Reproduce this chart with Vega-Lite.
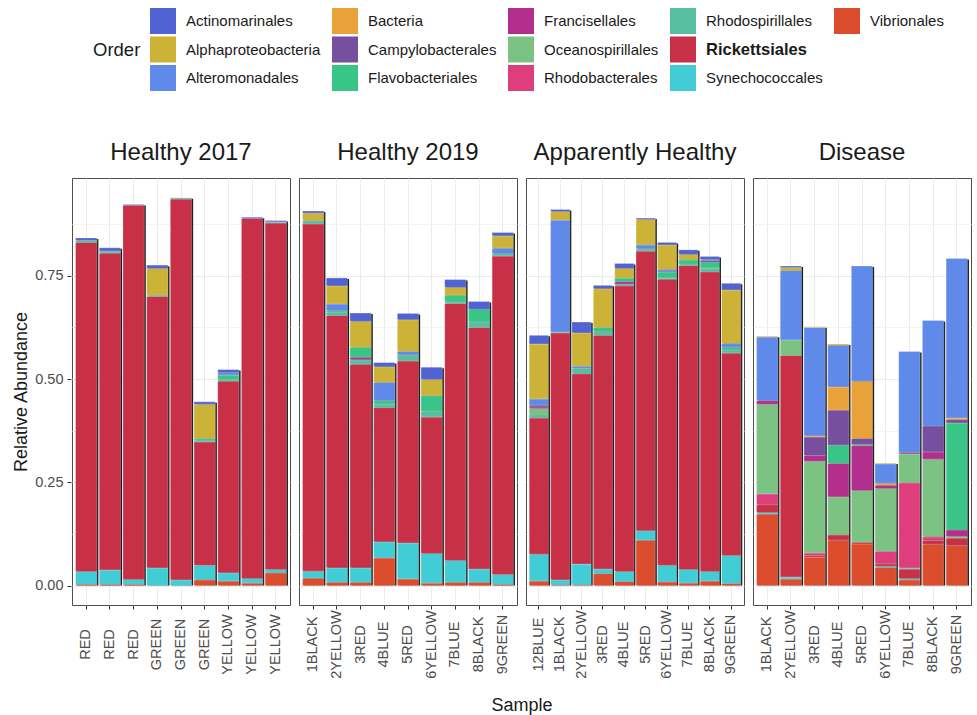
{
  "$schema": "https://vega.github.io/schema/vega-lite/v6.json",
  "padding": {"left": 12, "top": 8, "right": 2, "bottom": 2},
  "data": {"values": [
    {"Group":"Healthy 2017","Sample":"RED.1","Order":"Vibrionales","Abundance":0.003},
    {"Group":"Healthy 2017","Sample":"RED.1","Order":"Synechococcales","Abundance":0.031},
    {"Group":"Healthy 2017","Sample":"RED.1","Order":"Rickettsiales","Abundance":0.797},
    {"Group":"Healthy 2017","Sample":"RED.1","Order":"Rhodospirillales","Abundance":0.005},
    {"Group":"Healthy 2017","Sample":"RED.1","Order":"Actinomarinales","Abundance":0.006},
    {"Group":"Healthy 2017","Sample":"RED.2","Order":"Vibrionales","Abundance":0.003},
    {"Group":"Healthy 2017","Sample":"RED.2","Order":"Synechococcales","Abundance":0.035},
    {"Group":"Healthy 2017","Sample":"RED.2","Order":"Rickettsiales","Abundance":0.767},
    {"Group":"Healthy 2017","Sample":"RED.2","Order":"Rhodospirillales","Abundance":0.005},
    {"Group":"Healthy 2017","Sample":"RED.2","Order":"Actinomarinales","Abundance":0.008},
    {"Group":"Healthy 2017","Sample":"RED.3","Order":"Vibrionales","Abundance":0.003},
    {"Group":"Healthy 2017","Sample":"RED.3","Order":"Synechococcales","Abundance":0.012},
    {"Group":"Healthy 2017","Sample":"RED.3","Order":"Rickettsiales","Abundance":0.906},
    {"Group":"Healthy 2017","Sample":"RED.3","Order":"Actinomarinales","Abundance":0.002},
    {"Group":"Healthy 2017","Sample":"GREEN.1","Order":"Synechococcales","Abundance":0.043},
    {"Group":"Healthy 2017","Sample":"GREEN.1","Order":"Rickettsiales","Abundance":0.657},
    {"Group":"Healthy 2017","Sample":"GREEN.1","Order":"Rhodospirillales","Abundance":0.003},
    {"Group":"Healthy 2017","Sample":"GREEN.1","Order":"Alphaproteobacteria","Abundance":0.065},
    {"Group":"Healthy 2017","Sample":"GREEN.1","Order":"Actinomarinales","Abundance":0.008},
    {"Group":"Healthy 2017","Sample":"GREEN.2","Order":"Synechococcales","Abundance":0.014},
    {"Group":"Healthy 2017","Sample":"GREEN.2","Order":"Rickettsiales","Abundance":0.922},
    {"Group":"Healthy 2017","Sample":"GREEN.2","Order":"Rhodospirillales","Abundance":0.003},
    {"Group":"Healthy 2017","Sample":"GREEN.3","Order":"Vibrionales","Abundance":0.014},
    {"Group":"Healthy 2017","Sample":"GREEN.3","Order":"Synechococcales","Abundance":0.035},
    {"Group":"Healthy 2017","Sample":"GREEN.3","Order":"Rickettsiales","Abundance":0.299},
    {"Group":"Healthy 2017","Sample":"GREEN.3","Order":"Rhodospirillales","Abundance":0.004},
    {"Group":"Healthy 2017","Sample":"GREEN.3","Order":"Flavobacteriales","Abundance":0.004},
    {"Group":"Healthy 2017","Sample":"GREEN.3","Order":"Alphaproteobacteria","Abundance":0.083},
    {"Group":"Healthy 2017","Sample":"GREEN.3","Order":"Actinomarinales","Abundance":0.006},
    {"Group":"Healthy 2017","Sample":"YELLOW.1","Order":"Vibrionales","Abundance":0.011},
    {"Group":"Healthy 2017","Sample":"YELLOW.1","Order":"Synechococcales","Abundance":0.020},
    {"Group":"Healthy 2017","Sample":"YELLOW.1","Order":"Rickettsiales","Abundance":0.464},
    {"Group":"Healthy 2017","Sample":"YELLOW.1","Order":"Rhodospirillales","Abundance":0.004},
    {"Group":"Healthy 2017","Sample":"YELLOW.1","Order":"Flavobacteriales","Abundance":0.011},
    {"Group":"Healthy 2017","Sample":"YELLOW.1","Order":"Alteromonadales","Abundance":0.006},
    {"Group":"Healthy 2017","Sample":"YELLOW.1","Order":"Actinomarinales","Abundance":0.007},
    {"Group":"Healthy 2017","Sample":"YELLOW.2","Order":"Vibrionales","Abundance":0.006},
    {"Group":"Healthy 2017","Sample":"YELLOW.2","Order":"Synechococcales","Abundance":0.011},
    {"Group":"Healthy 2017","Sample":"YELLOW.2","Order":"Rickettsiales","Abundance":0.872},
    {"Group":"Healthy 2017","Sample":"YELLOW.2","Order":"Actinomarinales","Abundance":0.003},
    {"Group":"Healthy 2017","Sample":"YELLOW.3","Order":"Vibrionales","Abundance":0.031},
    {"Group":"Healthy 2017","Sample":"YELLOW.3","Order":"Synechococcales","Abundance":0.008},
    {"Group":"Healthy 2017","Sample":"YELLOW.3","Order":"Rickettsiales","Abundance":0.839},
    {"Group":"Healthy 2017","Sample":"YELLOW.3","Order":"Rhodospirillales","Abundance":0.003},
    {"Group":"Healthy 2017","Sample":"YELLOW.3","Order":"Actinomarinales","Abundance":0.003},

    {"Group":"Healthy 2019","Sample":"1BLACK","Order":"Vibrionales","Abundance":0.018},
    {"Group":"Healthy 2019","Sample":"1BLACK","Order":"Synechococcales","Abundance":0.017},
    {"Group":"Healthy 2019","Sample":"1BLACK","Order":"Rickettsiales","Abundance":0.841},
    {"Group":"Healthy 2019","Sample":"1BLACK","Order":"Rhodospirillales","Abundance":0.008},
    {"Group":"Healthy 2019","Sample":"1BLACK","Order":"Alphaproteobacteria","Abundance":0.018},
    {"Group":"Healthy 2019","Sample":"1BLACK","Order":"Actinomarinales","Abundance":0.005},
    {"Group":"Healthy 2019","Sample":"2YELLOW","Order":"Vibrionales","Abundance":0.008},
    {"Group":"Healthy 2019","Sample":"2YELLOW","Order":"Synechococcales","Abundance":0.035},
    {"Group":"Healthy 2019","Sample":"2YELLOW","Order":"Rickettsiales","Abundance":0.611},
    {"Group":"Healthy 2019","Sample":"2YELLOW","Order":"Rhodospirillales","Abundance":0.008},
    {"Group":"Healthy 2019","Sample":"2YELLOW","Order":"Flavobacteriales","Abundance":0.004},
    {"Group":"Healthy 2019","Sample":"2YELLOW","Order":"Alteromonadales","Abundance":0.016},
    {"Group":"Healthy 2019","Sample":"2YELLOW","Order":"Alphaproteobacteria","Abundance":0.044},
    {"Group":"Healthy 2019","Sample":"2YELLOW","Order":"Actinomarinales","Abundance":0.019},
    {"Group":"Healthy 2019","Sample":"3RED","Order":"Vibrionales","Abundance":0.008},
    {"Group":"Healthy 2019","Sample":"3RED","Order":"Synechococcales","Abundance":0.035},
    {"Group":"Healthy 2019","Sample":"3RED","Order":"Rickettsiales","Abundance":0.493},
    {"Group":"Healthy 2019","Sample":"3RED","Order":"Rhodospirillales","Abundance":0.011},
    {"Group":"Healthy 2019","Sample":"3RED","Order":"Francisellales","Abundance":0.006},
    {"Group":"Healthy 2019","Sample":"3RED","Order":"Flavobacteriales","Abundance":0.024},
    {"Group":"Healthy 2019","Sample":"3RED","Order":"Alphaproteobacteria","Abundance":0.063},
    {"Group":"Healthy 2019","Sample":"3RED","Order":"Actinomarinales","Abundance":0.020},
    {"Group":"Healthy 2019","Sample":"4BLUE","Order":"Vibrionales","Abundance":0.067},
    {"Group":"Healthy 2019","Sample":"4BLUE","Order":"Synechococcales","Abundance":0.039},
    {"Group":"Healthy 2019","Sample":"4BLUE","Order":"Rickettsiales","Abundance":0.325},
    {"Group":"Healthy 2019","Sample":"4BLUE","Order":"Rhodospirillales","Abundance":0.009},
    {"Group":"Healthy 2019","Sample":"4BLUE","Order":"Flavobacteriales","Abundance":0.008},
    {"Group":"Healthy 2019","Sample":"4BLUE","Order":"Alteromonadales","Abundance":0.044},
    {"Group":"Healthy 2019","Sample":"4BLUE","Order":"Alphaproteobacteria","Abundance":0.038},
    {"Group":"Healthy 2019","Sample":"4BLUE","Order":"Actinomarinales","Abundance":0.010},
    {"Group":"Healthy 2019","Sample":"5RED","Order":"Vibrionales","Abundance":0.016},
    {"Group":"Healthy 2019","Sample":"5RED","Order":"Synechococcales","Abundance":0.087},
    {"Group":"Healthy 2019","Sample":"5RED","Order":"Rickettsiales","Abundance":0.441},
    {"Group":"Healthy 2019","Sample":"5RED","Order":"Rhodospirillales","Abundance":0.015},
    {"Group":"Healthy 2019","Sample":"5RED","Order":"Alteromonadales","Abundance":0.008},
    {"Group":"Healthy 2019","Sample":"5RED","Order":"Alphaproteobacteria","Abundance":0.077},
    {"Group":"Healthy 2019","Sample":"5RED","Order":"Actinomarinales","Abundance":0.015},
    {"Group":"Healthy 2019","Sample":"6YELLOW","Order":"Vibrionales","Abundance":0.006},
    {"Group":"Healthy 2019","Sample":"6YELLOW","Order":"Synechococcales","Abundance":0.072},
    {"Group":"Healthy 2019","Sample":"6YELLOW","Order":"Rickettsiales","Abundance":0.330},
    {"Group":"Healthy 2019","Sample":"6YELLOW","Order":"Rhodospirillales","Abundance":0.014},
    {"Group":"Healthy 2019","Sample":"6YELLOW","Order":"Flavobacteriales","Abundance":0.038},
    {"Group":"Healthy 2019","Sample":"6YELLOW","Order":"Alphaproteobacteria","Abundance":0.039},
    {"Group":"Healthy 2019","Sample":"6YELLOW","Order":"Actinomarinales","Abundance":0.030},
    {"Group":"Healthy 2019","Sample":"7BLUE","Order":"Vibrionales","Abundance":0.008},
    {"Group":"Healthy 2019","Sample":"7BLUE","Order":"Synechococcales","Abundance":0.053},
    {"Group":"Healthy 2019","Sample":"7BLUE","Order":"Rickettsiales","Abundance":0.622},
    {"Group":"Healthy 2019","Sample":"7BLUE","Order":"Rhodospirillales","Abundance":0.004},
    {"Group":"Healthy 2019","Sample":"7BLUE","Order":"Flavobacteriales","Abundance":0.016},
    {"Group":"Healthy 2019","Sample":"7BLUE","Order":"Alphaproteobacteria","Abundance":0.019},
    {"Group":"Healthy 2019","Sample":"7BLUE","Order":"Actinomarinales","Abundance":0.019},
    {"Group":"Healthy 2019","Sample":"8BLACK","Order":"Vibrionales","Abundance":0.008},
    {"Group":"Healthy 2019","Sample":"8BLACK","Order":"Synechococcales","Abundance":0.032},
    {"Group":"Healthy 2019","Sample":"8BLACK","Order":"Rickettsiales","Abundance":0.585},
    {"Group":"Healthy 2019","Sample":"8BLACK","Order":"Rhodospirillales","Abundance":0.014},
    {"Group":"Healthy 2019","Sample":"8BLACK","Order":"Flavobacteriales","Abundance":0.030},
    {"Group":"Healthy 2019","Sample":"8BLACK","Order":"Actinomarinales","Abundance":0.019},
    {"Group":"Healthy 2019","Sample":"9GREEN","Order":"Vibrionales","Abundance":0.003},
    {"Group":"Healthy 2019","Sample":"9GREEN","Order":"Synechococcales","Abundance":0.024},
    {"Group":"Healthy 2019","Sample":"9GREEN","Order":"Rickettsiales","Abundance":0.771},
    {"Group":"Healthy 2019","Sample":"9GREEN","Order":"Rhodospirillales","Abundance":0.006},
    {"Group":"Healthy 2019","Sample":"9GREEN","Order":"Alteromonadales","Abundance":0.013},
    {"Group":"Healthy 2019","Sample":"9GREEN","Order":"Alphaproteobacteria","Abundance":0.030},
    {"Group":"Healthy 2019","Sample":"9GREEN","Order":"Actinomarinales","Abundance":0.008},

    {"Group":"Apparently Healthy","Sample":"12BLUE","Order":"Vibrionales","Abundance":0.011},
    {"Group":"Apparently Healthy","Sample":"12BLUE","Order":"Synechococcales","Abundance":0.065},
    {"Group":"Apparently Healthy","Sample":"12BLUE","Order":"Rickettsiales","Abundance":0.330},
    {"Group":"Apparently Healthy","Sample":"12BLUE","Order":"Rhodospirillales","Abundance":0.008},
    {"Group":"Apparently Healthy","Sample":"12BLUE","Order":"Oceanospirillales","Abundance":0.015},
    {"Group":"Apparently Healthy","Sample":"12BLUE","Order":"Francisellales","Abundance":0.004},
    {"Group":"Apparently Healthy","Sample":"12BLUE","Order":"Campylobacterales","Abundance":0.004},
    {"Group":"Apparently Healthy","Sample":"12BLUE","Order":"Alteromonadales","Abundance":0.015},
    {"Group":"Apparently Healthy","Sample":"12BLUE","Order":"Alphaproteobacteria","Abundance":0.133},
    {"Group":"Apparently Healthy","Sample":"12BLUE","Order":"Actinomarinales","Abundance":0.021},
    {"Group":"Apparently Healthy","Sample":"1BLACK","Order":"Vibrionales","Abundance":0.002},
    {"Group":"Apparently Healthy","Sample":"1BLACK","Order":"Synechococcales","Abundance":0.012},
    {"Group":"Apparently Healthy","Sample":"1BLACK","Order":"Rickettsiales","Abundance":0.598},
    {"Group":"Apparently Healthy","Sample":"1BLACK","Order":"Rhodospirillales","Abundance":0.002},
    {"Group":"Apparently Healthy","Sample":"1BLACK","Order":"Alteromonadales","Abundance":0.271},
    {"Group":"Apparently Healthy","Sample":"1BLACK","Order":"Alphaproteobacteria","Abundance":0.021},
    {"Group":"Apparently Healthy","Sample":"1BLACK","Order":"Actinomarinales","Abundance":0.005},
    {"Group":"Apparently Healthy","Sample":"2YELLOW","Order":"Vibrionales","Abundance":0.002},
    {"Group":"Apparently Healthy","Sample":"2YELLOW","Order":"Synechococcales","Abundance":0.050},
    {"Group":"Apparently Healthy","Sample":"2YELLOW","Order":"Rickettsiales","Abundance":0.461},
    {"Group":"Apparently Healthy","Sample":"2YELLOW","Order":"Rhodospirillales","Abundance":0.013},
    {"Group":"Apparently Healthy","Sample":"2YELLOW","Order":"Alteromonadales","Abundance":0.005},
    {"Group":"Apparently Healthy","Sample":"2YELLOW","Order":"Alphaproteobacteria","Abundance":0.081},
    {"Group":"Apparently Healthy","Sample":"2YELLOW","Order":"Actinomarinales","Abundance":0.026},
    {"Group":"Apparently Healthy","Sample":"3RED","Order":"Vibrionales","Abundance":0.029},
    {"Group":"Apparently Healthy","Sample":"3RED","Order":"Synechococcales","Abundance":0.011},
    {"Group":"Apparently Healthy","Sample":"3RED","Order":"Rickettsiales","Abundance":0.566},
    {"Group":"Apparently Healthy","Sample":"3RED","Order":"Rhodospirillales","Abundance":0.009},
    {"Group":"Apparently Healthy","Sample":"3RED","Order":"Flavobacteriales","Abundance":0.010},
    {"Group":"Apparently Healthy","Sample":"3RED","Order":"Alphaproteobacteria","Abundance":0.094},
    {"Group":"Apparently Healthy","Sample":"3RED","Order":"Actinomarinales","Abundance":0.008},
    {"Group":"Apparently Healthy","Sample":"4BLUE","Order":"Vibrionales","Abundance":0.010},
    {"Group":"Apparently Healthy","Sample":"4BLUE","Order":"Synechococcales","Abundance":0.024},
    {"Group":"Apparently Healthy","Sample":"4BLUE","Order":"Rickettsiales","Abundance":0.692},
    {"Group":"Apparently Healthy","Sample":"4BLUE","Order":"Rhodospirillales","Abundance":0.004},
    {"Group":"Apparently Healthy","Sample":"4BLUE","Order":"Francisellales","Abundance":0.006},
    {"Group":"Apparently Healthy","Sample":"4BLUE","Order":"Flavobacteriales","Abundance":0.009},
    {"Group":"Apparently Healthy","Sample":"4BLUE","Order":"Alphaproteobacteria","Abundance":0.023},
    {"Group":"Apparently Healthy","Sample":"4BLUE","Order":"Actinomarinales","Abundance":0.012},
    {"Group":"Apparently Healthy","Sample":"5RED","Order":"Vibrionales","Abundance":0.110},
    {"Group":"Apparently Healthy","Sample":"5RED","Order":"Synechococcales","Abundance":0.023},
    {"Group":"Apparently Healthy","Sample":"5RED","Order":"Rickettsiales","Abundance":0.677},
    {"Group":"Apparently Healthy","Sample":"5RED","Order":"Rhodospirillales","Abundance":0.006},
    {"Group":"Apparently Healthy","Sample":"5RED","Order":"Alteromonadales","Abundance":0.009},
    {"Group":"Apparently Healthy","Sample":"5RED","Order":"Alphaproteobacteria","Abundance":0.062},
    {"Group":"Apparently Healthy","Sample":"5RED","Order":"Actinomarinales","Abundance":0.003},
    {"Group":"Apparently Healthy","Sample":"6YELLOW","Order":"Vibrionales","Abundance":0.009},
    {"Group":"Apparently Healthy","Sample":"6YELLOW","Order":"Synechococcales","Abundance":0.040},
    {"Group":"Apparently Healthy","Sample":"6YELLOW","Order":"Rickettsiales","Abundance":0.693},
    {"Group":"Apparently Healthy","Sample":"6YELLOW","Order":"Rhodospirillales","Abundance":0.003},
    {"Group":"Apparently Healthy","Sample":"6YELLOW","Order":"Flavobacteriales","Abundance":0.014},
    {"Group":"Apparently Healthy","Sample":"6YELLOW","Order":"Alteromonadales","Abundance":0.006},
    {"Group":"Apparently Healthy","Sample":"6YELLOW","Order":"Alphaproteobacteria","Abundance":0.060},
    {"Group":"Apparently Healthy","Sample":"6YELLOW","Order":"Actinomarinales","Abundance":0.006},
    {"Group":"Apparently Healthy","Sample":"7BLUE","Order":"Vibrionales","Abundance":0.006},
    {"Group":"Apparently Healthy","Sample":"7BLUE","Order":"Synechococcales","Abundance":0.033},
    {"Group":"Apparently Healthy","Sample":"7BLUE","Order":"Rickettsiales","Abundance":0.736},
    {"Group":"Apparently Healthy","Sample":"7BLUE","Order":"Rhodospirillales","Abundance":0.003},
    {"Group":"Apparently Healthy","Sample":"7BLUE","Order":"Flavobacteriales","Abundance":0.011},
    {"Group":"Apparently Healthy","Sample":"7BLUE","Order":"Alphaproteobacteria","Abundance":0.013},
    {"Group":"Apparently Healthy","Sample":"7BLUE","Order":"Actinomarinales","Abundance":0.011},
    {"Group":"Apparently Healthy","Sample":"8BLACK","Order":"Vibrionales","Abundance":0.011},
    {"Group":"Apparently Healthy","Sample":"8BLACK","Order":"Synechococcales","Abundance":0.023},
    {"Group":"Apparently Healthy","Sample":"8BLACK","Order":"Rickettsiales","Abundance":0.726},
    {"Group":"Apparently Healthy","Sample":"8BLACK","Order":"Rhodospirillales","Abundance":0.009},
    {"Group":"Apparently Healthy","Sample":"8BLACK","Order":"Flavobacteriales","Abundance":0.014},
    {"Group":"Apparently Healthy","Sample":"8BLACK","Order":"Campylobacterales","Abundance":0.004},
    {"Group":"Apparently Healthy","Sample":"8BLACK","Order":"Alteromonadales","Abundance":0.003},
    {"Group":"Apparently Healthy","Sample":"8BLACK","Order":"Actinomarinales","Abundance":0.007},
    {"Group":"Apparently Healthy","Sample":"9GREEN","Order":"Vibrionales","Abundance":0.005},
    {"Group":"Apparently Healthy","Sample":"9GREEN","Order":"Synechococcales","Abundance":0.068},
    {"Group":"Apparently Healthy","Sample":"9GREEN","Order":"Rickettsiales","Abundance":0.490},
    {"Group":"Apparently Healthy","Sample":"9GREEN","Order":"Rhodospirillales","Abundance":0.007},
    {"Group":"Apparently Healthy","Sample":"9GREEN","Order":"Flavobacteriales","Abundance":0.007},
    {"Group":"Apparently Healthy","Sample":"9GREEN","Order":"Alteromonadales","Abundance":0.009},
    {"Group":"Apparently Healthy","Sample":"9GREEN","Order":"Alphaproteobacteria","Abundance":0.130},
    {"Group":"Apparently Healthy","Sample":"9GREEN","Order":"Actinomarinales","Abundance":0.016},

    {"Group":"Disease","Sample":"1BLACK","Order":"Vibrionales","Abundance":0.173},
    {"Group":"Disease","Sample":"1BLACK","Order":"Synechococcales","Abundance":0.004},
    {"Group":"Disease","Sample":"1BLACK","Order":"Rickettsiales","Abundance":0.019},
    {"Group":"Disease","Sample":"1BLACK","Order":"Rhodobacterales","Abundance":0.026},
    {"Group":"Disease","Sample":"1BLACK","Order":"Oceanospirillales","Abundance":0.217},
    {"Group":"Disease","Sample":"1BLACK","Order":"Francisellales","Abundance":0.009},
    {"Group":"Disease","Sample":"1BLACK","Order":"Alteromonadales","Abundance":0.154},
    {"Group":"Disease","Sample":"1BLACK","Order":"Alphaproteobacteria","Abundance":0.002},
    {"Group":"Disease","Sample":"2YELLOW","Order":"Vibrionales","Abundance":0.016},
    {"Group":"Disease","Sample":"2YELLOW","Order":"Synechococcales","Abundance":0.005},
    {"Group":"Disease","Sample":"2YELLOW","Order":"Rickettsiales","Abundance":0.536},
    {"Group":"Disease","Sample":"2YELLOW","Order":"Oceanospirillales","Abundance":0.038},
    {"Group":"Disease","Sample":"2YELLOW","Order":"Alteromonadales","Abundance":0.168},
    {"Group":"Disease","Sample":"2YELLOW","Order":"Alphaproteobacteria","Abundance":0.008},
    {"Group":"Disease","Sample":"2YELLOW","Order":"Actinomarinales","Abundance":0.003},
    {"Group":"Disease","Sample":"3RED","Order":"Vibrionales","Abundance":0.069},
    {"Group":"Disease","Sample":"3RED","Order":"Rickettsiales","Abundance":0.004},
    {"Group":"Disease","Sample":"3RED","Order":"Rhodobacterales","Abundance":0.006},
    {"Group":"Disease","Sample":"3RED","Order":"Oceanospirillales","Abundance":0.222},
    {"Group":"Disease","Sample":"3RED","Order":"Francisellales","Abundance":0.014},
    {"Group":"Disease","Sample":"3RED","Order":"Campylobacterales","Abundance":0.045},
    {"Group":"Disease","Sample":"3RED","Order":"Bacteria","Abundance":0.003},
    {"Group":"Disease","Sample":"3RED","Order":"Alteromonadales","Abundance":0.262},
    {"Group":"Disease","Sample":"3RED","Order":"Alphaproteobacteria","Abundance":0.002},
    {"Group":"Disease","Sample":"4BLUE","Order":"Vibrionales","Abundance":0.110},
    {"Group":"Disease","Sample":"4BLUE","Order":"Rickettsiales","Abundance":0.013},
    {"Group":"Disease","Sample":"4BLUE","Order":"Oceanospirillales","Abundance":0.092},
    {"Group":"Disease","Sample":"4BLUE","Order":"Francisellales","Abundance":0.081},
    {"Group":"Disease","Sample":"4BLUE","Order":"Flavobacteriales","Abundance":0.044},
    {"Group":"Disease","Sample":"4BLUE","Order":"Campylobacterales","Abundance":0.085},
    {"Group":"Disease","Sample":"4BLUE","Order":"Bacteria","Abundance":0.056},
    {"Group":"Disease","Sample":"4BLUE","Order":"Alteromonadales","Abundance":0.101},
    {"Group":"Disease","Sample":"4BLUE","Order":"Alphaproteobacteria","Abundance":0.003},
    {"Group":"Disease","Sample":"5RED","Order":"Vibrionales","Abundance":0.101},
    {"Group":"Disease","Sample":"5RED","Order":"Rickettsiales","Abundance":0.004},
    {"Group":"Disease","Sample":"5RED","Order":"Oceanospirillales","Abundance":0.125},
    {"Group":"Disease","Sample":"5RED","Order":"Francisellales","Abundance":0.109},
    {"Group":"Disease","Sample":"5RED","Order":"Flavobacteriales","Abundance":0.003},
    {"Group":"Disease","Sample":"5RED","Order":"Campylobacterales","Abundance":0.014},
    {"Group":"Disease","Sample":"5RED","Order":"Bacteria","Abundance":0.139},
    {"Group":"Disease","Sample":"5RED","Order":"Alteromonadales","Abundance":0.279},
    {"Group":"Disease","Sample":"6YELLOW","Order":"Vibrionales","Abundance":0.044},
    {"Group":"Disease","Sample":"6YELLOW","Order":"Synechococcales","Abundance":0.003},
    {"Group":"Disease","Sample":"6YELLOW","Order":"Rickettsiales","Abundance":0.006},
    {"Group":"Disease","Sample":"6YELLOW","Order":"Rhodobacterales","Abundance":0.030},
    {"Group":"Disease","Sample":"6YELLOW","Order":"Oceanospirillales","Abundance":0.152},
    {"Group":"Disease","Sample":"6YELLOW","Order":"Francisellales","Abundance":0.008},
    {"Group":"Disease","Sample":"6YELLOW","Order":"Bacteria","Abundance":0.005},
    {"Group":"Disease","Sample":"6YELLOW","Order":"Alteromonadales","Abundance":0.047},
    {"Group":"Disease","Sample":"6YELLOW","Order":"Alphaproteobacteria","Abundance":0.002},
    {"Group":"Disease","Sample":"7BLUE","Order":"Vibrionales","Abundance":0.014},
    {"Group":"Disease","Sample":"7BLUE","Order":"Synechococcales","Abundance":0.003},
    {"Group":"Disease","Sample":"7BLUE","Order":"Rickettsiales","Abundance":0.023},
    {"Group":"Disease","Sample":"7BLUE","Order":"Rhodospirillales","Abundance":0.003},
    {"Group":"Disease","Sample":"7BLUE","Order":"Rhodobacterales","Abundance":0.206},
    {"Group":"Disease","Sample":"7BLUE","Order":"Oceanospirillales","Abundance":0.070},
    {"Group":"Disease","Sample":"7BLUE","Order":"Francisellales","Abundance":0.003},
    {"Group":"Disease","Sample":"7BLUE","Order":"Alteromonadales","Abundance":0.245},
    {"Group":"Disease","Sample":"8BLACK","Order":"Vibrionales","Abundance":0.100},
    {"Group":"Disease","Sample":"8BLACK","Order":"Rickettsiales","Abundance":0.009},
    {"Group":"Disease","Sample":"8BLACK","Order":"Rhodobacterales","Abundance":0.009},
    {"Group":"Disease","Sample":"8BLACK","Order":"Oceanospirillales","Abundance":0.188},
    {"Group":"Disease","Sample":"8BLACK","Order":"Francisellales","Abundance":0.018},
    {"Group":"Disease","Sample":"8BLACK","Order":"Campylobacterales","Abundance":0.063},
    {"Group":"Disease","Sample":"8BLACK","Order":"Alteromonadales","Abundance":0.255},
    {"Group":"Disease","Sample":"9GREEN","Order":"Vibrionales","Abundance":0.097},
    {"Group":"Disease","Sample":"9GREEN","Order":"Rickettsiales","Abundance":0.018},
    {"Group":"Disease","Sample":"9GREEN","Order":"Oceanospirillales","Abundance":0.004},
    {"Group":"Disease","Sample":"9GREEN","Order":"Francisellales","Abundance":0.016},
    {"Group":"Disease","Sample":"9GREEN","Order":"Flavobacteriales","Abundance":0.259},
    {"Group":"Disease","Sample":"9GREEN","Order":"Campylobacterales","Abundance":0.008},
    {"Group":"Disease","Sample":"9GREEN","Order":"Bacteria","Abundance":0.004},
    {"Group":"Disease","Sample":"9GREEN","Order":"Alteromonadales","Abundance":0.386}
  ]},
  "facet": {
    "column": {
      "field": "Group", "type": "nominal",
      "sort": ["Healthy 2017", "Healthy 2019", "Apparently Healthy", "Disease"],
      "title": "Sample",
      "header": {
        "labelOrient": "top", "titleOrient": "bottom",
        "labelFont": "Liberation Sans", "labelFontSize": 24, "labelColor": "#1a1a1a", "labelPadding": 12,
        "titleFont": "Liberation Sans", "titleFontSize": 18, "titleFontWeight": "normal", "titleColor": "#1a1a1a", "titlePadding": 8
      }
    }
  },
  "spacing": 7,
  "resolve": {"scale": {"x": "independent"}},
  "spec": {
    "width": 218,
    "height": 427,
    "layer": [
      {
        "mark": {"type": "bar", "color": "#1a1a1a", "xOffset": 1.5, "yOffset": 1},
        "encoding": {
          "x": {
            "field": "Sample", "type": "nominal", "sort": null,
            "scale": {"paddingInner": 0.1, "paddingOuter": 0.15},
            "axis": {
              "title": null, "labelAngle": -90, "labelAlign": "center", "labelBaseline": "middle",
              "labelPadding": 35, "labelExpr": "split(datum.label, '.')[0]",
              "grid": true, "bandPosition": 0.5
            }
          },
          "y": {
            "aggregate": "sum", "field": "Abundance", "type": "quantitative",
            "scale": {"domain": [-0.047, 0.987], "nice": false, "zero": false},
            "axis": {
              "title": "Relative Abundance", "titlePadding": 4, "labelPadding": 4,
              "values": [0, 0.125, 0.25, 0.375, 0.5, 0.625, 0.75, 0.875],
              "labelExpr": "round(datum.value * 8) % 2 == 0 ? format(datum.value, '.2f') : ''",
              "tickOpacity": {"condition": {"test": "round(datum.value * 8) % 2 != 0", "value": 0}, "value": 1},
              "gridColor": {"condition": {"test": "round(datum.value * 8) % 2 != 0", "value": "#f3f3f3"}, "value": "#ebebeb"}
            }
          }
        }
      },
      {
        "mark": {"type": "bar", "stroke": "white", "strokeWidth": 0.4, "strokeOpacity": 0.6},
        "encoding": {
          "x": {"field": "Sample", "type": "nominal", "sort": null, "scale": {"paddingInner": 0.1, "paddingOuter": 0.15}},
          "y": {"field": "Abundance", "type": "quantitative", "stack": "zero", "scale": {"domain": [-0.047, 0.987], "nice": false, "zero": false}},
          "color": {
            "field": "Order", "type": "nominal",
            "scale": {
              "domain": ["Actinomarinales", "Bacteria", "Francisellales", "Rhodospirillales", "Vibrionales",
                         "Alphaproteobacteria", "Campylobacterales", "Oceanospirillales", "Rickettsiales", "pad1",
                         "Alteromonadales", "Flavobacteriales", "Rhodobacterales", "Synechococcales", "pad2"],
              "range": ["#5163d3", "#e9a139", "#b32f8e", "#57bfa0", "#db4d2c",
                        "#ccb337", "#764f9f", "#7bc283", "#c73046", "rgba(0,0,0,0)",
                        "#608ae9", "#38c585", "#de3e7c", "#41ccd6", "rgba(0,0,0,0)"]
            },
            "legend": {
              "title": "Order", "orient": "none", "legendX": 21, "legendY": -170,
              "direction": "horizontal", "columns": 5,
              "titleOrient": "left", "titleAnchor": "middle", "titleBaseline": "middle",
              "titleFont": "Liberation Sans", "titleFontSize": 18.5, "titleFontWeight": "normal", "titleColor": "#1a1a1a", "titlePadding": 9,
              "symbolType": "square", "symbolSize": 676, "symbolStrokeWidth": 0, "symbolOpacity": 1,
              "labelFont": "Liberation Sans", "labelFontSize": {"expr": "datum.label == 'Rickettsiales' ? 16.5 : 15"}, "labelColor": "#1a1a1a", "labelOffset": 10, "labelLimit": 300,
              "labelFontWeight": {"expr": "datum.label == 'Rickettsiales' ? 'bold' : 'normal'"},
              "labelExpr": "indexof(datum.label, 'pad') == 0 ? '' : datum.label",
              "columnPadding": 11, "rowPadding": 2.5
            }
          },
          "order": {"field": "Order", "type": "nominal", "sort": "descending"}
        }
      }
    ]
  },
  "config": {
    "font": "Liberation Sans",
    "view": {"stroke": "#4d4d4d", "strokeWidth": 1},
    "axis": {
      "labelFont": "Liberation Sans", "labelFontSize": 14.5, "labelColor": "#4d4d4d",
      "tickColor": "#333333", "tickSize": 4, "domain": false, "gridColor": "#ebebeb",
      "titleFont": "Liberation Sans", "titleFontSize": 18, "titleFontWeight": "normal", "titleColor": "#1a1a1a"
    }
  }
}
